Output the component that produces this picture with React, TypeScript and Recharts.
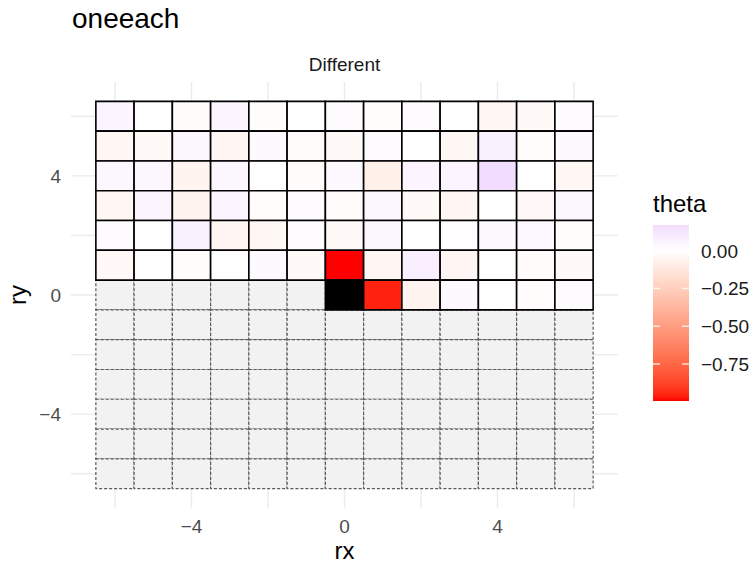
import React from 'react';
import { ScatterChart, Scatter, XAxis, YAxis, CartesianGrid, ReferenceArea } from 'recharts';

// ---- data ----
const rxValues = [-6, -5, -4, -3, -2, -1, 0, 1, 2, 3, 4, 5, 6];
const ryUpper = [6, 5, 4, 3, 2, 1];
const thetaRy6 = [0.05, 0.0, -0.02, 0.05, -0.01, 0.0, 0.02, -0.015, 0.02, 0.0, -0.04, -0.03, 0.02];
const thetaRy5 = [-0.04, -0.025, 0.04, -0.05, 0.03, -0.02, -0.025, 0.02, 0.0, -0.04, 0.07, -0.01, 0.03];
const thetaRy4 = [0.04, 0.04, -0.06, 0.04, 0.0, -0.02, 0.025, -0.08, 0.05, 0.05, 0.17, 0.0, -0.04];
const thetaRy3 = [-0.04, 0.05, -0.06, 0.05, -0.015, 0.02, -0.02, 0.04, -0.025, -0.05, 0.0, -0.035, 0.04];
const thetaRy2 = [0.02, 0.0, 0.07, -0.05, -0.04, 0.015, -0.03, 0.04, 0.0, 0.01, 0.025, 0.035, -0.01];
const thetaRy1 = [-0.035, 0.0, -0.01, 0.005, 0.025, -0.03, -0.995, -0.045, 0.08, -0.05, 0.0, -0.02, -0.025];
const rxRow0 = [0, 1, 2, 3, 4, 5, 6];
const thetaRy0: (number | null)[] = [null, -0.96, -0.06, 0.03, 0.0, -0.015, 0.02];
const axisTicks = [-6, -4, -2, 0, 2, 4, 6];
const labelTicks = [-4, 0, 4];
const legendBreaks = [0, -0.25, -0.5, -0.75];
const thetaLimits = [-0.995, 0.17];

const upperRows = [thetaRy6, thetaRy5, thetaRy4, thetaRy3, thetaRy2, thetaRy1];

type Tile = { x: number; y: number; v: number | null };
const colouredTiles: Tile[] = [];
upperRows.forEach((row, i) => row.forEach((v, j) => colouredTiles.push({ x: rxValues[j], y: ryUpper[i], v })));
rxRow0.forEach((x, j) => colouredTiles.push({ x, y: 0, v: thetaRy0[j] }));

const greyTiles: { x: number; y: number }[] = [];
for (let y = 0; y >= -6; y--) {
  rxValues.forEach((x) => {
    if (y < 0 || x < 0) greyTiles.push({ x, y });
  });
}

// ---- colour scale (Lab interpolation, like scale_fill_gradient2) ----
const LAB_WHITE = [100, 0, 0];
const LAB_LOW = [53.24, 80.09, 67.2];
const LAB_HIGH = [45.35, 78.7, -77.4];
function labToHex(L: number, a: number, b: number) {
  const fy = (L + 16) / 116;
  const fx = fy + a / 500;
  const fz = fy - b / 200;
  const finv = (t: number) => (t > 6 / 29 ? t * t * t : 3 * (6 / 29) * (6 / 29) * (t - 4 / 29));
  const X = 0.95047 * finv(fx);
  const Y = finv(fy);
  const Z = 1.08883 * finv(fz);
  const lin = [
    3.2406 * X - 1.5372 * Y - 0.4986 * Z,
    -0.9689 * X + 1.8758 * Y + 0.0415 * Z,
    0.0557 * X - 0.204 * Y + 1.057 * Z,
  ];
  return (
    '#' +
    lin
      .map((c) => {
        const g = c <= 0.0031308 ? 12.92 * c : 1.055 * Math.pow(c, 1 / 2.4) - 0.055;
        const n = Math.round(Math.max(0, Math.min(1, g)) * 255);
        return n.toString(16).padStart(2, '0');
      })
      .join('')
  );
}
const extent = Math.max(Math.abs(thetaLimits[0]), Math.abs(thetaLimits[1]));
function thetaColour(v: number | null) {
  if (v === null) return '#000000';
  const t = Math.min(1, Math.abs(v) / extent);
  const end = v < 0 ? LAB_LOW : LAB_HIGH;
  return labToHex(
    LAB_WHITE[0] + (end[0] - LAB_WHITE[0]) * t,
    LAB_WHITE[1] + (end[1] - LAB_WHITE[1]) * t,
    LAB_WHITE[2] + (end[2] - LAB_WHITE[2]) * t
  );
}

const fmt = (v: number) => (v < 0 ? '\u2212' + Math.abs(v) : String(v));
const fmtLegend = (v: number) => (v < 0 ? '\u2212' + Math.abs(v).toFixed(2) : v.toFixed(2));

const FONT = '"Liberation Sans", Arial, Helvetica, sans-serif';
const W = 753;
const H = 563;

// legend geometry
const BAR_X = 653;
const BAR_W = 36;
const BAR_TOP = 225;
const BAR_H = 176;
const legendY = (v: number) => BAR_TOP + ((thetaLimits[1] - v) / (thetaLimits[1] - thetaLimits[0])) * BAR_H;
const gradientStops = Array.from({ length: 41 }, (_, i) => {
  const v = thetaLimits[1] - (i / 40) * (thetaLimits[1] - thetaLimits[0]);
  return { offset: i / 40, colour: thetaColour(v) };
});

const majorX = ({ xAxis }: any) =>
  xAxis && typeof xAxis.scale === 'function' ? labelTicks.map((v) => xAxis.scale(v)) : [];
const majorY = ({ yAxis }: any) =>
  yAxis && typeof yAxis.scale === 'function' ? labelTicks.map((v) => yAxis.scale(v)) : [];

export default function App() {
  return (
    <div style={{ position: 'absolute', left: 0, top: 0, width: W, height: H, background: '#fff', fontFamily: FONT }}>
      <ScatterChart width={W} height={H} margin={{ top: 82, right: 135, bottom: 0, left: 0 }}>
        <CartesianGrid stroke="#EBEBEB" strokeWidth={1.4} syncWithTicks />
        <CartesianGrid
          stroke="#EBEBEB"
          strokeWidth={2.8}
          syncWithTicks
          verticalCoordinatesGenerator={majorX}
          horizontalCoordinatesGenerator={majorY}
        />
        <XAxis
          type="number"
          dataKey="x"
          domain={[-7.15, 7.15]}
          ticks={axisTicks}
          interval={0}
          allowDataOverflow
          height={55}
          axisLine={false}
          tickLine={false}
          tickSize={0}
          tickMargin={12}
          tickFormatter={(v: number) => (labelTicks.includes(v) ? fmt(v) : '')}
          tick={{ fontSize: 19, fill: '#4D4D4D', fontFamily: FONT }}
        />
        <YAxis
          type="number"
          dataKey="y"
          domain={[-7.15, 7.15]}
          ticks={axisTicks}
          interval={0}
          allowDataOverflow
          width={71}
          axisLine={false}
          tickLine={false}
          tickSize={0}
          tickMargin={10}
          tickFormatter={(v: number) => (labelTicks.includes(v) ? fmt(v) : '')}
          tick={{ fontSize: 19, fill: '#4D4D4D', fontFamily: FONT }}
        />
        {greyTiles.map((t, i) => (
          <ReferenceArea
            key={'g' + i}
            x1={t.x - 0.5}
            x2={t.x + 0.5}
            y1={t.y - 0.5}
            y2={t.y + 0.5}
            fill="#F2F2F2"
            fillOpacity={1}
            stroke="#5a5a5a"
            strokeWidth={1.2}
            strokeDasharray="3 2"
            ifOverflow="visible"
          />
        ))}
        {colouredTiles.map((t, i) => (
          <ReferenceArea
            key={'c' + i}
            x1={t.x - 0.5}
            x2={t.x + 0.5}
            y1={t.y - 0.5}
            y2={t.y + 0.5}
            fill={thetaColour(t.v)}
            fillOpacity={1}
            stroke="#000000"
            strokeWidth={1.6}
            ifOverflow="visible"
          />
        ))}
        <Scatter data={colouredTiles} isAnimationActive={false} shape={() => <g />} />
      </ScatterChart>
      <svg width={W} height={H} style={{ position: 'absolute', left: 0, top: 0, pointerEvents: 'none' }}>
        <defs>
          <linearGradient id="thetaGrad" x1="0" y1="0" x2="0" y2="1">
            {gradientStops.map((s, i) => (
              <stop key={i} offset={s.offset} stopColor={s.colour} />
            ))}
          </linearGradient>
        </defs>
        <text x={72} y={28} fontSize={28} fill="#000" fontFamily={FONT}>oneeach</text>
        <text x={344.5} y={71} fontSize={19} fill="#1A1A1A" textAnchor="middle" fontFamily={FONT}>Different</text>
        <text x={344.5} y={559} fontSize={24} fill="#000" textAnchor="middle" fontFamily={FONT}>rx</text>
        <text x={0} y={0} fontSize={24} fill="#000" textAnchor="middle" fontFamily={FONT} transform="translate(26,295) rotate(-90)">ry</text>
        <text x={653} y={212} fontSize={24} fill="#000" fontFamily={FONT}>theta</text>
        <rect x={BAR_X} y={BAR_TOP} width={BAR_W} height={BAR_H} fill="url(#thetaGrad)" />
        {legendBreaks.map((b) => (
          <g key={b}>
            <line x1={BAR_X} x2={BAR_X + 7} y1={legendY(b)} y2={legendY(b)} stroke="#ffffff" strokeOpacity={0.75} strokeWidth={1.5} />
            <line x1={BAR_X + BAR_W - 7} x2={BAR_X + BAR_W} y1={legendY(b)} y2={legendY(b)} stroke="#ffffff" strokeOpacity={0.75} strokeWidth={1.5} />
            <text x={701} y={legendY(b)} dy="0.36em" fontSize={19} fill="#1A1A1A" fontFamily={FONT}>{fmtLegend(b)}</text>
          </g>
        ))}
      </svg>
    </div>
  );
}
